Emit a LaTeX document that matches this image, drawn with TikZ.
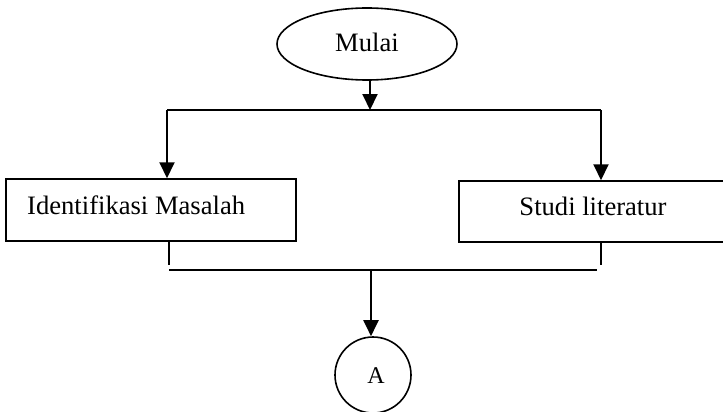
\documentclass[tikz,border=0pt]{standalone}
\usepackage{fontspec}
\setmainfont{Liberation Serif}
\usetikzlibrary{shapes.geometric,arrows.meta}
\begin{document}
\begin{tikzpicture}[x=1pt,y=-1pt,
  every node/.style={inner sep=0pt},
  txt/.style={font=\fontsize{26.6}{30}\selectfont},
  boxs/.style={draw,line width=1.5pt,rectangle},
  conn/.style={line width=2pt},
  arr/.style={line width=2pt,-{Triangle[width=15pt,length=16pt]}}]
\useasboundingbox (0,0) rectangle (723,412);
\node[draw,line width=1.6pt,ellipse,minimum width=180pt,minimum height=72pt] (start) at (367,44) {};
\node[txt,anchor=base] (tstart) at (367,52) {Mulai};
\node[boxs,minimum width=290pt,minimum height=62pt] (b1) at (151,210) {};
\node[txt,anchor=base west] (t1) at (27,214) {Identifikasi Masalah};
\node[boxs,minimum width=266pt,minimum height=61pt] (b2) at (592,211.5) {};
\node[txt,anchor=base] (t2) at (593,215) {Studi literatur};
\node[draw,line width=1.6pt,circle,minimum size=76pt] (c) at (373,375) {};
\node[font=\fontsize{24}{28}\selectfont,anchor=base] (tc) at (376,383) {A};
\coordinate (s1) at (370,110);
\coordinate (l1) at (167,110);
\coordinate (r1) at (601,110);
\coordinate (l2) at (169,265);
\coordinate (r2) at (601,265);
\coordinate (m1) at (169,270);
\coordinate (m2) at (597,270);
\coordinate (m3) at (371,270);
\draw[arr] (start.south -| s1) -- (s1);
\draw[conn] (l1) -- (r1);
\draw[arr] (l1) -- (l1 |- b1.north);
\draw[arr] (r1) -- (r1 |- b2.north);
\draw[line width=2.2pt] (l2 |- b1.south) -- (l2);
\draw[line width=1.4pt] (r2 |- b2.south) -- (r2);
\draw[line width=1.4pt] (m1) -- (m2);
\draw[arr] (m3) -- (m3 |- c.north);
\end{tikzpicture}
\end{document}
